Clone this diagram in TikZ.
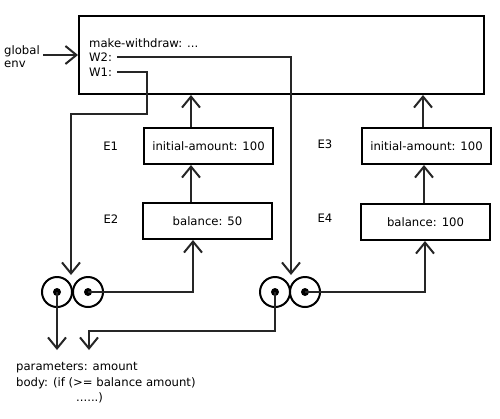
\documentclass[tikz,border=0pt]{standalone}
\usepackage{fontspec}
\setmainfont{DejaVu Sans}
\usetikzlibrary{arrows.meta}

\tikzset{
  frame/.style={draw, line width=2bp, inner sep=0pt},
  envbox/.style={frame, minimum width=129bp, minimum height=36bp},
  ring/.style={draw, circle, line width=2bp, minimum size=30bp, inner sep=0pt},
  txt/.style={inner sep=0pt, font=\fontsize{11.7}{14}\selectfont},
  link/.style={line width=2bp, draw=black!85},
  arr/.style={link, -{Straight Barb[length=11bp,width=18bp]}}
}

\begin{document}
\begin{tikzpicture}[x=1bp,y=-1bp]
    \useasboundingbox (0,0) rectangle (500,418);

    % Global environment frame and its bindings
    \node[frame, minimum width=405bp, minimum height=78bp] (G) at (281.5,55) {};
    \node[txt, anchor=base west] (mw) at (89,47) {make-withdraw: ...};
    \node[txt, anchor=base west] (w2) at (89,61.7) {W2:};
    \node[txt, anchor=base west] (w1) at (89,76) {W1:};

    % Label for the global environment
    \node[txt, anchor=base west] (glob) at (4,54) {global};
    \node[txt, anchor=base west] (env) at (4,67.7) {env};
    \coordinate (ga) at (43,55);
    \draw[arr] (ga) -- (G.west |- ga);

    % Environments E1..E4
    \node[envbox] (E1) at (208.5,146) {};
    \node[txt] at (E1) {initial-amount: 100};
    \node[envbox] (E2) at (207.5,221) {};
    \node[txt] at (E2) {balance: 50};
    \node[envbox] (E3) at (426.5,146) {};
    \node[txt] at (E3) {initial-amount: 100};
    \node[envbox] (E4) at (425.5,222) {};
    \node[txt] at (E4) {balance: 100};

    \node[txt] (e1) at (110.7,146) {E1};
    \node[txt] (e2) at (111,218.7) {E2};
    \node[txt] (e3) at (325,144) {E3};
    \node[txt] (e4) at (325,218) {E4};

    % Enclosing-environment pointers
    \draw[arr] ([xshift=-17.5bp]E1.north) -- ([xshift=-17.5bp]E1.north |- G.south);
    \draw[arr] ([xshift=-16.5bp]E2.north) -- ([xshift=-16.5bp]E2.north |- E1.south);
    \draw[arr] ([xshift=-3.5bp]E3.north) -- ([xshift=-3.5bp]E3.north |- G.south);
    \draw[arr] ([xshift=-1.5bp]E4.north) -- ([xshift=-1.5bp]E4.north |- E3.south);

    % Procedure objects (two circle pairs)
    \node[ring] (p1) at (57,292) {};
    \node[ring] (q1) at (88,292) {};
    \node[ring] (p2) at (275,292) {};
    \node[ring] (q2) at (305,292) {};
    \foreach \c in {p1,q1,p2,q2}
        \fill (\c.center) circle (4bp);

    % Bindings W1 and W2 point at the procedures
    \coordinate (c1) at (147,114);
    \coordinate (t1) at (71,275);
    \coordinate (t2) at (291,275);
    \draw[arr] ([xshift=5bp]w1.east) -| (c1) -| (t1);
    \draw[arr] ([xshift=5bp]w2.east) -| (t2);

    % Procedure environments
    \draw[arr] (q1.center) -| ([xshift=-14.5bp]E2.south);
    \draw[arr] (q2.center) -| ([xshift=-0.5bp]E4.south);

    % Code of the procedures
    \node[txt, anchor=base west] (par) at (16,370.7) {parameters: amount};
    \node[txt, anchor=base west] (body) at (16,386.7) {body: (if (>= balance amount)};
    \node[txt, anchor=base west] (more) at (76,401.7) {......)};

    \coordinate (t3) at (57,350);
    \coordinate (k2) at (89,331);
    \coordinate (t4) at (89,350);
    \draw[arr] (p1.center) -- (t3);
    \draw[arr] (p2.center) |- (k2) -- (t4);
\end{tikzpicture}
\end{document}
